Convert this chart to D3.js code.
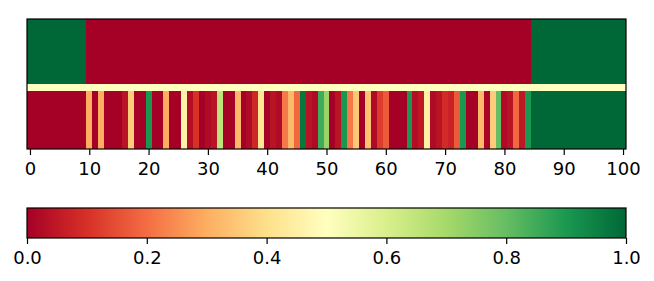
<!DOCTYPE html>
<html>
<head>
<meta charset="utf-8">
<script src="https://cdn.jsdelivr.net/npm/d3@7"></script>
<style>
  body { margin: 0; background: #fff; }
  svg { font-family: "DejaVu Sans", sans-serif; }
</style>
</head>
<body>
<svg id="chart"></svg>
<script>
// top row of the heatmap, one value per column 0..100
const topRow = [
  1, 1, 1, 1, 1, 1, 1, 1, 1, 1,
  0, 0, 0, 0, 0, 0, 0, 0, 0, 0,
  0, 0, 0, 0, 0, 0, 0, 0, 0, 0,
  0, 0, 0, 0, 0, 0, 0, 0, 0, 0,
  0, 0, 0, 0, 0, 0, 0, 0, 0, 0,
  0, 0, 0, 0, 0, 0, 0, 0, 0, 0,
  0, 0, 0, 0, 0, 0, 0, 0, 0, 0,
  0, 0, 0, 0, 0, 0, 0, 0, 0, 0,
  0, 0, 0, 0, 0, 1, 1, 1, 1, 1,
  1, 1, 1, 1, 1, 1, 1, 1, 1, 1,
  1
];

// bottom row of the heatmap
const bottomRow = [
  0, 0, 0, 0, 0, 0, 0, 0, 0, 0,
  0.3, 0, 0.3, 0, 0, 0, 0.04, 0.36, 0, 0,
  0.9, 0, 0, 0.3, 0, 0, 0.46, 0.03, 0.1, 0,
  0.02, 0.04, 0.65, 0, 0, 0.32, 0, 0.02, 0.08, 0.42,
  0, 0.04, 0.02, 0.22, 0.32, 0.19, 0.97, 0.04, 0.02, 0.85,
  0.72, 0, 0.04, 0.9, 0.22, 0.35, 0, 0.34, 0.02, 0.12,
  0.17, 0, 0, 0, 0.9, 0.03, 0.05, 0.45, 0.02, 0.04,
  0.09, 0.07, 0.17, 0.9, 0, 0, 0.32, 0.01, 0.36, 0.8,
  0.02, 0.04, 0.19, 0.05, 0.9, 1, 1, 1, 1, 1,
  1, 1, 1, 1, 1, 1, 1, 1, 1, 1,
  1
];

// value of the thin band between the two rows
const separatorValue = 0.5;

const xTicks = [0, 10, 20, 30, 40, 50, 60, 70, 80, 90, 100];
const cbarTicks = [0.0, 0.2, 0.4, 0.6, 0.8, 1.0];

const width = 654, height = 281;
const plot = { left: 27, right: 626, top: 19, bottom: 149 };
const cbar = { top: 208, bottom: 238 };
const fontSize = '18px';

// RdYlGn, piecewise linear between the 11 brewer stops (as matplotlib does)
const stops = d3.schemeRdYlGn[11];
const color = d3.scaleLinear()
  .domain(d3.range(11).map(i => i / 10))
  .range(stops)
  .interpolate(d3.interpolateRgb)
  .clamp(true);

const svg = d3.select('#chart')
  .attr('width', width)
  .attr('height', height);

const n = topRow.length;
const xscale = d3.scaleLinear()
  .domain([-0.5, n - 0.5])
  .range([plot.left, plot.right]);

// vertical layout of the bands, in relative units
const yscale = d3.scaleLinear()
  .domain([0, 130])
  .range([plot.top, plot.bottom]);
const bands = [
  { values: topRow, y0: 0, y1: 65 },
  { values: d3.range(n).map(() => separatorValue), y0: 65, y1: 72 },
  { values: bottomRow, y0: 72, y1: 130 }
];

const chart = svg.append('g');
bands.forEach(b => {
  chart.append('g')
    .selectAll('rect')
    .data(b.values)
    .join('rect')
    .attr('x', (d, i) => xscale(i - 0.5))
    .attr('width', (d, i) => xscale(i + 0.5) - xscale(i - 0.5) + 0.4)
    .attr('y', yscale(b.y0))
    .attr('height', yscale(b.y1) - yscale(b.y0))
    .attr('fill', d => color(d))
    .attr('shape-rendering', 'crispEdges');
});

chart.append('rect')
  .attr('x', plot.left)
  .attr('y', plot.top)
  .attr('width', plot.right - plot.left)
  .attr('height', plot.bottom - plot.top)
  .attr('fill', 'none')
  .attr('stroke', '#000')
  .attr('stroke-width', 1.2);

function styleAxis(g) {
  g.select('.domain').remove();
  g.selectAll('text')
    .style('font-size', fontSize)
    .attr('fill', '#000')
    .attr('font-family', '"DejaVu Sans", sans-serif');
  g.selectAll('line').attr('stroke', '#000').attr('stroke-width', 1.2);
}

const xaxis = d3.axisBottom(xscale)
  .tickValues(xTicks)
  .tickSize(6)
  .tickPadding(7);

svg.append('g')
  .attr('transform', `translate(0, ${plot.bottom})`)
  .call(xaxis)
  .call(styleAxis);

// colorbar
const cscale = d3.scaleLinear()
  .domain([0, 1])
  .range([plot.left, plot.right]);

const grad = svg.append('defs').append('linearGradient')
  .attr('id', 'cbar-grad')
  .attr('x1', '0%').attr('x2', '100%')
  .attr('y1', '0%').attr('y2', '0%');
grad.selectAll('stop')
  .data(stops)
  .join('stop')
  .attr('offset', (d, i) => `${i * 10}%`)
  .attr('stop-color', d => d);

svg.append('rect')
  .attr('x', cscale(0))
  .attr('y', cbar.top)
  .attr('width', cscale(1) - cscale(0))
  .attr('height', cbar.bottom - cbar.top)
  .attr('fill', 'url(#cbar-grad)')
  .attr('stroke', '#000')
  .attr('stroke-width', 1.2);

const caxis = d3.axisBottom(cscale)
  .tickValues(cbarTicks)
  .tickFormat(d3.format('.1f'))
  .tickSize(6)
  .tickPadding(7);

svg.append('g')
  .attr('transform', `translate(0, ${cbar.bottom})`)
  .call(caxis)
  .call(styleAxis);
</script>
</body>
</html>
